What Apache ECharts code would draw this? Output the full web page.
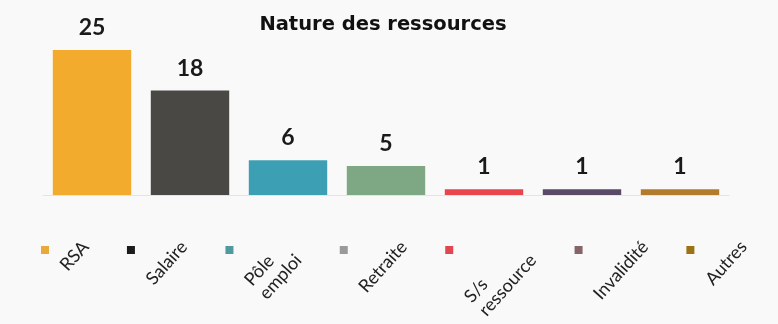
<!DOCTYPE html>
<html>
<head>
<meta charset="utf-8">
<script src="https://cdn.jsdelivr.net/npm/echarts@6/dist/echarts.min.js"></script>
<style>
  html, body { margin: 0; padding: 0; background: #f9f9f9; }
  #chart { width: 778px; height: 324px; }
</style>
</head>
<body>
<div id="chart"></div>
<script>
// Resource types and counts
const categories = ['RSA', 'Salaire', 'Pôle\nemploi', 'Retraite', 'S/s\nressource', 'Invalidité', 'Autres'];
const counts = [25, 18, 6, 5, 1, 1, 1];
const barColors = ['#f2ab2c', '#4a4844', '#3c9fb4', '#7ea883', '#e8454c', '#5a4a68', '#b37b2c'];
const keyColors = ['#e9a93a', '#1c1c1c', '#4f9aa1', '#9a9a9a', '#e2464f', '#86656a', '#9c7214'];

// Legend row styling: a small key square followed by the tilted name
const KEY_SIZE = 8;
const KEY_DROP = 55;      // key centre below the baseline
const TEXT_TOP = 42;      // upper corner of each tilted name below the baseline
const TEXT_PAD = 11;      // key centre to name
const ITEM_GAP = 38;      // name end to next key centre
const LEG_FONT_SIZE = 18;
const LEG_LINE = 20;
const LEG_FONT = LEG_FONT_SIZE + 'px Lato';
const TILT = 48 * Math.PI / 180;
const COS = Math.cos(TILT), SIN = Math.sin(TILT);

const measureCtx = document.createElement('canvas').getContext('2d');
function textWidth(s) {
  measureCtx.font = LEG_FONT;
  return measureCtx.measureText(s).width;
}

// Flow the legend entries from left to right, each taking the width of its tilted name
function legendLayout(startX, baseY) {
  const out = [];
  let sx = startX;
  categories.forEach(function (name) {
    const lines = name.split('\n');
    const wMax = Math.max.apply(null, lines.map(textWidth));
    const h = lines.length * LEG_LINE;
    const ax = sx + TEXT_PAD;
    const ay = baseY + TEXT_TOP + wMax * SIN;
    out.push({ sx: sx, sy: baseY + KEY_DROP, ax: ax, ay: ay });
    sx = ax + wMax * COS + h * SIN + ITEM_GAP;
  });
  return out;
}

const chart = echarts.init(document.getElementById('chart'), null, { renderer: 'canvas' });

chart.setOption({
  backgroundColor: '#f9f9f9',
  animation: false,
  title: {
    text: 'Nature des ressources',
    left: 378,
    top: 10,
    textAlign: 'center',
    textStyle: {
      fontFamily: 'DejaVu Sans',
      fontWeight: 'bold',
      fontSize: 19.5,
      color: '#111'
    }
  },
  grid: { left: 43, right: 49, top: 50, bottom: 129 },
  xAxis: {
    type: 'category',
    data: categories,
    axisLine: { show: true, lineStyle: { color: '#e4e4e4', width: 1 } },
    axisTick: { show: false },
    axisLabel: { show: false }
  },
  yAxis: {
    type: 'value',
    min: 0,
    max: 25,
    show: false,
    splitLine: { show: false }
  },
  series: [
    {
      type: 'bar',
      data: counts.map((v, i) => ({ value: v, itemStyle: { color: barColors[i] } })),
      barCategoryGap: '20%',
      label: {
        show: true,
        position: 'top',
        distance: 11,
        fontFamily: 'Lato',
        fontWeight: 'bold',
        fontSize: 23,
        color: '#1a1a1a'
      }
    },
    {
      // legend row: key squares and tilted category names
      type: 'custom',
      silent: true,
      clip: false,
      data: categories.map((c, i) => [i, 0]),
      renderItem: function (params, api) {
        const first = api.coord([0, 0]);
        const band = api.size([1, 0])[0];
        const layout = legendLayout(first[0] - band / 2 + 2, first[1]);
        const it = layout[params.dataIndex];
        return {
          type: 'group',
          children: [
            {
              type: 'rect',
              shape: { x: it.sx - KEY_SIZE / 2, y: it.sy - KEY_SIZE / 2, width: KEY_SIZE, height: KEY_SIZE },
              style: { fill: keyColors[params.dataIndex] }
            },
            {
              type: 'text',
              x: it.ax,
              y: it.ay,
              rotation: TILT,
              style: {
                text: categories[params.dataIndex],
                font: LEG_FONT,
                fill: '#222',
                align: 'left',
                verticalAlign: 'top',
                lineHeight: LEG_LINE
              }
            }
          ]
        };
      }
    }
  ]
});
</script>
</body>
</html>
